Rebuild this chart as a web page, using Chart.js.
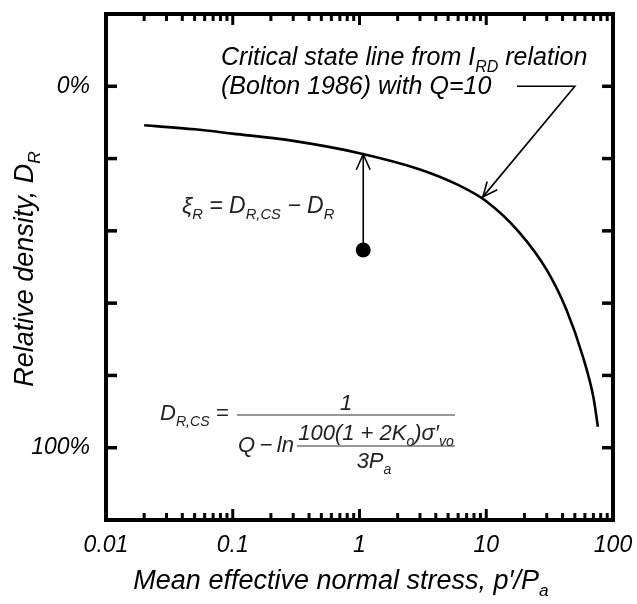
<!DOCTYPE html>
<html>
<head>
<meta charset="utf-8">
<script src="https://cdn.jsdelivr.net/npm/chart.js@4"></script>
<style>
  html, body { margin: 0; padding: 0; background: #fff; }
  #wrap { width: 637px; height: 604px; }
</style>
</head>
<body>
<div id="wrap"><canvas id="csChart"></canvas></div>
<script>
// values
const stressValues = [0.02, 0.05, 0.1, 0.3, 1, 3, 6, 10, 18, 30, 43, 58, 70, 76];
const densityValues = [10.8, 11.9, 13.1, 15.1, 18.5, 23.0, 27.3, 31.8, 40.2, 50.8, 61.9, 74.9, 86.0, 94.2];
const stateStress = [1.07];
const stateDensity = [45.3];

const xTickValues = [0.01, 0.1, 1, 10, 100];
const xTickLabels = ['0.01', '0.1', '1', '10', '100'];
const yTickValues = [-20, 0, 20, 40, 60, 80, 100, 120];
const yTickLabels = ['', '0%', '', '', '', '', '100%', ''];

const FONT = '"Liberation Sans", Arial, sans-serif';

// draws a line of text with subscripts: segs = [[text, 'sub'|''], ...]
function richText(ctx, segs, x, y, size, align) {
    let width = 0;
    const parts = segs.map(([t, k]) => {
        const s = k === 'sub' ? size * 0.64 : size;
        ctx.font = 'italic ' + s + 'px ' + FONT;
        const w = ctx.measureText(t).width;
        width += w;
        return { t: t, s: s, w: w, dy: k === 'sub' ? size * 0.26 : 0 };
    });
    let cx = align === 'center' ? x - width / 2 : x;
    parts.forEach(p => {
        ctx.font = 'italic ' + p.s + 'px ' + FONT;
        ctx.fillText(p.t, cx, y + p.dy);
        cx += p.w;
    });
    return width;
}

function line(ctx, x1, y1, x2, y2) {
    ctx.beginPath();
    ctx.moveTo(x1, y1);
    ctx.lineTo(x2, y2);
    ctx.stroke();
}

function arrowHead(ctx, fx, fy, tx, ty, len, spread) {
    const ang = Math.atan2(ty - fy, tx - fx);
    ctx.beginPath();
    ctx.moveTo(tx - len * Math.cos(ang - spread), ty - len * Math.sin(ang - spread));
    ctx.lineTo(tx, ty);
    ctx.lineTo(tx - len * Math.cos(ang + spread), ty - len * Math.sin(ang + spread));
    ctx.stroke();
}

function noPad(s) {
    s.paddingLeft = 0;
    s.paddingRight = 0;
    s.paddingTop = 0;
    s.paddingBottom = 0;
}

const framePlugin = {
    id: 'frame',
    afterDatasetsDraw(chart) {
        const { ctx, chartArea: a, scales: { x, y } } = chart;
        ctx.save();
        ctx.strokeStyle = '#000';
        ctx.lineCap = 'butt';

        // x ticks, pointing inward on top and bottom
        ctx.lineWidth = 3;
        for (let d = 0; d < xTickValues.length - 1; d++) {
            for (let m = 1; m < 10; m++) {
                const v = xTickValues[d] * m;
                const px = x.getPixelForValue(v);
                const len = m === 1 ? 11 : 7;
                line(ctx, px, a.bottom, px, a.bottom - len);
                line(ctx, px, a.top, px, a.top + len);
            }
        }
        // y ticks, left and right
        ctx.lineWidth = 3.5;
        yTickValues.forEach(v => {
            const py = y.getPixelForValue(v);
            line(ctx, a.left, py, a.left + 11, py);
            line(ctx, a.right, py, a.right - 11, py);
        });
        // frame
        ctx.lineWidth = 4;
        ctx.strokeRect(a.left, a.top, a.right - a.left, a.bottom - a.top);

        // xi arrow from the state point up to the CSL
        ctx.lineWidth = 1.6;
        const ax = x.getPixelForValue(stateStress[0]);
        const ay1 = y.getPixelForValue(stateDensity[0]);
        const ay2 = y.getPixelForValue(18.8);
        line(ctx, ax, ay1, ax, ay2);
        arrowHead(ctx, ax, ay1, ax, ay2, 17, 0.42);

        // leader to the CSL
        const l1x = x.getPixelForValue(17.5), l2x = x.getPixelForValue(50);
        const ly = y.getPixelForValue(0);
        const tx = x.getPixelForValue(9.4), ty = y.getPixelForValue(30.6);
        ctx.beginPath();
        ctx.moveTo(l1x, ly);
        ctx.lineTo(l2x, ly);
        ctx.lineTo(tx, ty);
        ctx.stroke();
        arrowHead(ctx, l2x, ly, tx, ty, 16, 0.42);

        // texts
        ctx.fillStyle = '#000';
        ctx.textBaseline = 'alphabetic';
        richText(ctx, [['Critical state line from I', ''], ['RD', 'sub'], [' relation', '']], 221, 65, 25, 'left');
        richText(ctx, [['(Bolton 1986) with Q=10', '']], 221, 94, 25, 'left');

        ctx.fillStyle = '#222';
        richText(ctx, [['\u03be', ''], ['R', 'sub'], [' = D', ''], ['R,CS', 'sub'], [' \u2212 D', ''], ['R', 'sub']], 182, 213, 23, 'left');

        // D_R,CS equation
        richText(ctx, [['D', ''], ['R,CS', 'sub'], [' =', '']], 160, 420, 22, 'left');
        ctx.strokeStyle = '#333';
        ctx.lineWidth = 1.2;
        line(ctx, 237, 415, 455, 415);
        richText(ctx, [['1', '']], 346, 410, 22, 'center');
        richText(ctx, [['Q\u2009\u2212\u2009ln', '']], 238, 452, 22, 'left');
        richText(ctx, [['100(1 + 2K', ''], ['o', 'sub'], [')\u03c3\u2032', ''], ['vo', 'sub']], 376, 440, 22, 'center');
        line(ctx, 297, 446, 455, 446);
        richText(ctx, [['3P', ''], ['a', 'sub']], 374, 468, 22, 'center');

        // axis titles
        ctx.fillStyle = '#000';
        richText(ctx, [['Mean effective normal stress, p\u2032/P', ''], ['a', 'sub']], 341, 589, 27, 'center');
        ctx.translate(33, 269);
        ctx.rotate(-Math.PI / 2);
        richText(ctx, [['Relative density, D', ''], ['R', 'sub']], 0, 0, 27, 'center');
        ctx.restore();
    }
};

const tickFont = { family: FONT, style: 'italic', size: 23 };

new Chart(document.getElementById('csChart'), {
    type: 'scatter',
    data: {
        datasets: [
            {
                label: 'Critical state line',
                data: stressValues.map((v, i) => ({ x: v, y: densityValues[i] })),
                showLine: true,
                borderColor: '#000',
                borderWidth: 2.6,
                pointRadius: 0,
                cubicInterpolationMode: 'monotone'
            },
            {
                label: 'State',
                data: stateStress.map((v, i) => ({ x: v, y: stateDensity[i] })),
                pointRadius: 7.5,
                backgroundColor: '#000',
                borderWidth: 0
            }
        ]
    },
    options: {
        responsive: true,
        maintainAspectRatio: false,
        devicePixelRatio: 1,
        animation: false,
        layout: { padding: { top: 14, right: 24, left: 0, bottom: 0 } },
        plugins: { legend: { display: false }, tooltip: { enabled: false } },
        scales: {
            x: {
                type: 'logarithmic',
                min: 0.01,
                max: 100,
                grid: { display: false, drawTicks: false },
                border: { display: false },
                afterBuildTicks: s => { s.ticks = xTickValues.map(v => ({ value: v })); },
                afterFit: s => { s.height = 84; noPad(s); },
                ticks: {
                    font: tickFont,
                    color: '#000',
                    padding: 12,
                    maxRotation: 0,
                    autoSkip: false,
                    callback: v => xTickLabels[xTickValues.indexOf(v)]
                }
            },
            y: {
                type: 'linear',
                reverse: true,
                min: -20,
                max: 120,
                grid: { display: false, drawTicks: false },
                border: { display: false },
                afterBuildTicks: s => { s.ticks = yTickValues.map(v => ({ value: v })); },
                afterFit: s => { s.width = 106; noPad(s); },
                ticks: {
                    font: tickFont,
                    color: '#000',
                    padding: 16,
                    autoSkip: false,
                    callback: v => yTickLabels[yTickValues.indexOf(v)]
                }
            }
        }
    },
    plugins: [framePlugin]
});
</script>
</body>
</html>
